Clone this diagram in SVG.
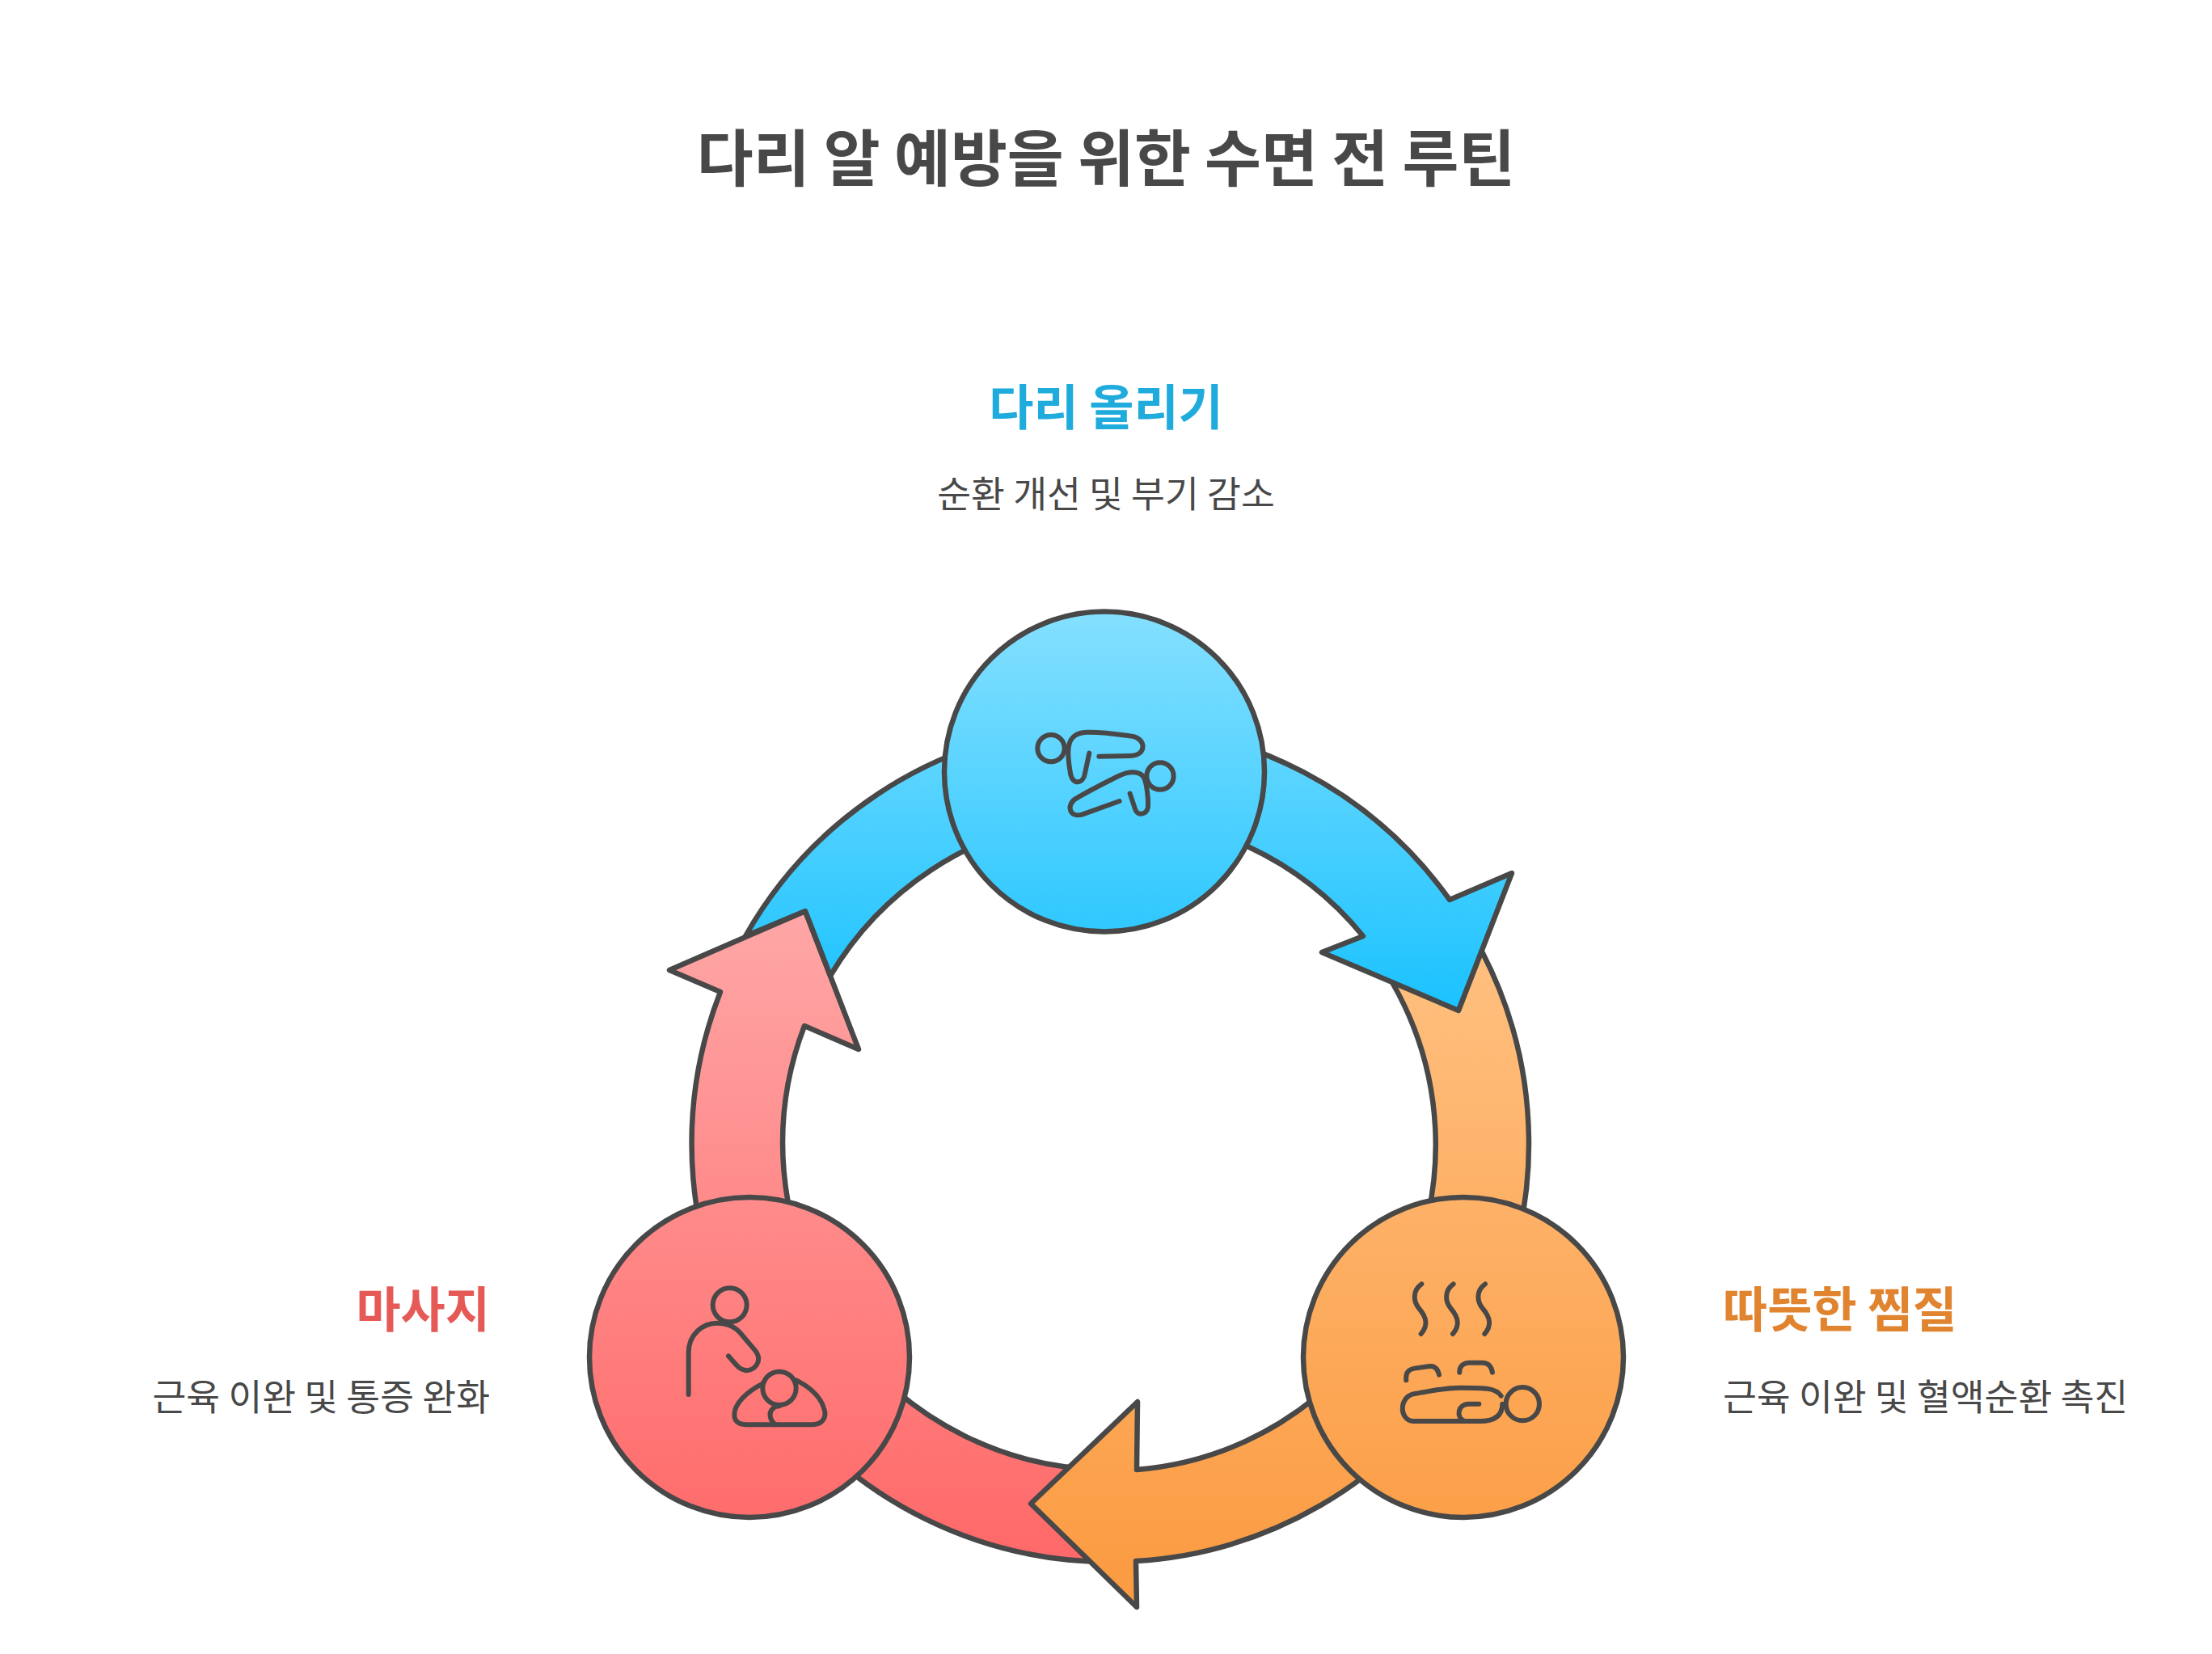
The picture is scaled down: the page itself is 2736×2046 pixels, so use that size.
<svg xmlns="http://www.w3.org/2000/svg" width="2736" height="2046" viewBox="0 0 2736 2046">
<style>
text{font-family:"Noto Sans CJK KR","Noto Sans",sans-serif}
.t{font-weight:700;font-size:76px;fill:#484848}
.h{font-weight:700;font-size:60px}
.s{font-size:45.5px;fill:#484848}
.o{stroke:#484848;stroke-width:6.5;stroke-linejoin:round}
.i{fill:none;stroke:#484848;stroke-width:18;stroke-linecap:round;stroke-linejoin:round}
</style>
<defs>
<linearGradient id="gb" gradientUnits="userSpaceOnUse" x1="0" y1="755" x2="0" y2="1250"><stop offset="0" stop-color="#85e0ff"/><stop offset="1" stop-color="#1ac2ff"/></linearGradient>
<linearGradient id="go" gradientUnits="userSpaceOnUse" x1="0" y1="1170" x2="0" y2="1990"><stop offset="0" stop-color="#ffc080"/><stop offset="1" stop-color="#fb9a40"/></linearGradient>
<linearGradient id="gr" gradientUnits="userSpaceOnUse" x1="0" y1="1130" x2="0" y2="1935"><stop offset="0" stop-color="#ffa6a6"/><stop offset="1" stop-color="#ff6868"/></linearGradient>
</defs>
<rect width="2736" height="2046" fill="#fff"/>
<text class="t" x="1368" y="224" text-anchor="middle">다리 알 예방을 위한 수면 전 루틴</text>
<g id="connectors">
<path id="arc-red" class="o" fill="url(#gr)" d="M1370 1932 A517 517 0 0 1 891 1227 L828 1200 L996 1127 L1062 1298 L995 1269 A404 404 0 0 0 1370 1818 Z"/>
<path id="arc-orange" class="o" fill="url(#go)" d="M1833 1177 A517 517 0 0 1 1405 1931 L1406 1988 L1275 1860 L1407 1734 L1406 1818 A403 403 0 0 0 1723 1217 Z"/>
<path id="arc-blue" class="o" fill="url(#gb)" d="M922 1158 A517 517 0 0 1 1793 1113 L1870 1080 L1804 1250 L1635 1178 L1686 1158 A403 403 0 0 0 1027 1207 L996 1127 Z"/>
</g>
<g id="node-top">
<circle class="o" fill="url(#gb)" cx="1366" cy="954.5" r="198"/>
<g transform="translate(1150 740) scale(.3333)" class="i">
<circle cx="450" cy="557" r="50"/>
<path d="M592 575 L576 650 C570 690 530 695 522 650 C515 610 513 570 515 555 C520 510 550 497 590 497 C650 497 700 505 750 512 C805 520 805 585 745 585 L628 587"/>
<circle cx="855" cy="660" r="50"/>
<path d="M743 725 L763 785 C772 808 805 805 810 775 C812 740 805 690 795 665 C780 640 740 640 700 660 C640 690 590 715 540 745 C505 770 520 815 565 803 L704 753"/>
</g>
<text class="h" fill="#1fabdc" x="1368" y="526" text-anchor="middle">다리 올리기</text>
<text class="s" x="1368" y="628" text-anchor="middle">순환 개선 및 부기 감소</text>
</g>
<g id="node-right">
<circle class="o" fill="url(#go)" cx="1810" cy="1679" r="198"/>
<g transform="translate(1590 1470) scale(.3333)" class="i">
<path d="M505 355 C470 380 475 420 495 445 C525 480 530 510 503 540"/>
<path d="M623 355 C588 380 593 420 613 445 C643 480 648 510 621 540"/>
<path d="M741 355 C706 380 711 420 731 445 C761 480 766 510 739 540"/>
<path d="M448 712 C445 685 455 672 480 668 L535 660 C555 658 565 670 570 692"/>
<path d="M646 683 C645 660 660 648 680 647 L730 647 C755 647 765 665 768 683"/>
<path d="M800 770 C780 740 740 740 650 740 C580 740 530 755 480 762 C420 770 420 862 475 864 L720 864 C780 864 805 840 805 800"/>
<circle cx="880" cy="800" r="62"/>
<path d="M718 800 L680 800 C640 800 630 850 665 864"/>
</g>
<text class="h" fill="#e08430" x="2131" y="1642">따뜻한 찜질</text>
<text class="s" x="2131" y="1745">근육 이완 및 혈액순환 촉진</text>
</g>
<g id="node-left">
<circle class="o" fill="url(#gr)" cx="927" cy="1679" r="198"/>
<g transform="translate(710 1470) scale(.3333)" class="i">
<circle cx="578" cy="433" r="63"/>
<path d="M425 765 L425 610 C425 540 480 500 530 500 C570 500 600 515 620 540 L675 605 C700 640 670 680 635 675 C615 672 610 665 573 622"/>
<circle cx="762" cy="742" r="62"/>
<path d="M700 725 C640 755 595 800 595 840 C595 875 625 877 650 877 L880 877 C925 877 935 850 930 825 C920 780 880 740 825 712"/>
<path d="M762 808 C735 810 725 830 728 845 C730 860 738 870 748 877"/>
</g>
<text class="h" fill="#e55a56" x="606" y="1642" text-anchor="end">마사지</text>
<text class="s" x="606" y="1745" text-anchor="end">근육 이완 및 통증 완화</text>
</g>
</svg>
